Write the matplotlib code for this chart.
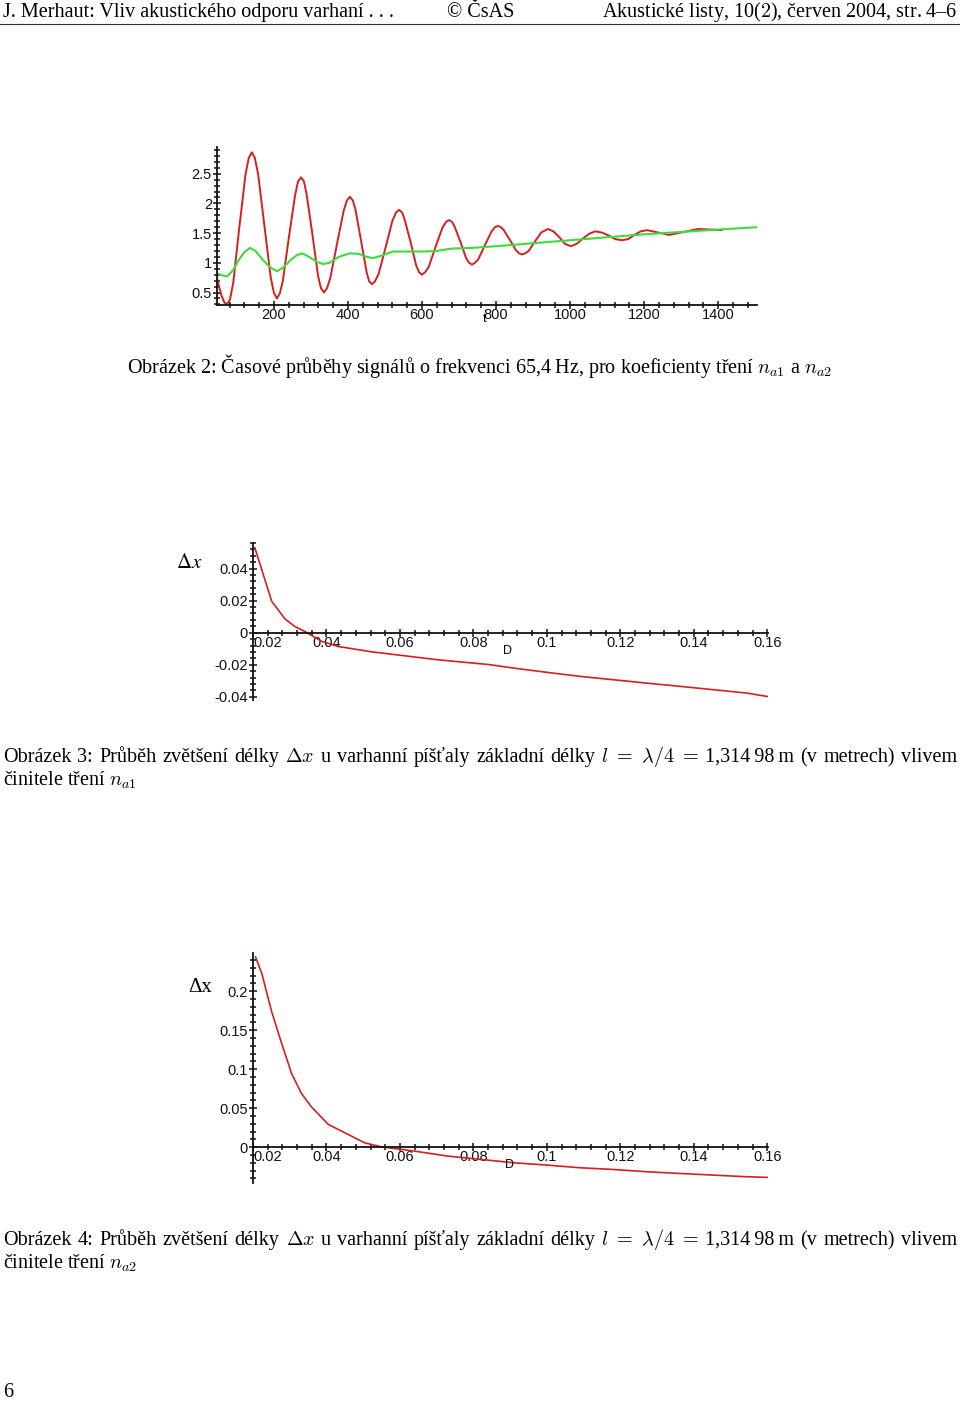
#!usr/bin/python3
import matplotlib
matplotlib.use('Agg')
import matplotlib.pyplot as plt
from matplotlib.ticker import FixedLocator, FixedFormatter, MultipleLocator
from matplotlib.lines import Line2D

W, H = 960, 1402

# Obrazek 2 - time signals (red: n_a1, green: n_a2)
t_red = [46, 58, 66, 73, 81, 90, 106, 123, 132, 140, 148, 157, 174, 191, 200, 208,
         216, 224, 240, 257, 265, 273, 281, 288, 304, 319, 327, 335, 343, 352, 370,
         388, 397, 405, 413, 420, 435, 450, 457, 465, 473, 483, 502, 520, 530, 538,
         546, 553, 569, 584, 592, 600, 608, 618, 636, 655, 665, 673, 681, 688, 704,
         719, 727, 735, 743, 752, 770, 788, 797, 805, 813, 821, 838, 854, 862, 870,
         878, 888, 905, 922, 940, 955, 971, 986, 1002, 1018, 1035, 1052, 1068, 1086,
         1104, 1122, 1140, 1157, 1174, 1191, 1208, 1238, 1268, 1307, 1346, 1380, 1410]
u_red = [0.74, 0.45, 0.33, 0.30, 0.38, 0.67, 1.58, 2.49, 2.77, 2.86, 2.77, 2.50, 1.63, 0.76, 0.49, 0.40,
         0.49, 0.70, 1.42, 2.14, 2.37, 2.44, 2.37, 2.16, 1.47, 0.78, 0.57, 0.50, 0.57, 0.74, 1.31,
         1.87, 2.05, 2.11, 2.05, 1.90, 1.38, 0.85, 0.69, 0.64, 0.69, 0.82, 1.27, 1.71, 1.85, 1.89,
         1.85, 1.73, 1.35, 0.96, 0.84, 0.80, 0.84, 0.93, 1.26, 1.59, 1.69, 1.72, 1.69, 1.61, 1.35,
         1.08, 1.00, 0.97, 1.00, 1.06, 1.30, 1.53, 1.60, 1.62, 1.60, 1.55, 1.38, 1.21, 1.16, 1.14,
         1.16, 1.20, 1.36, 1.51, 1.57, 1.53, 1.43, 1.32, 1.28, 1.32, 1.41, 1.49, 1.53, 1.51,
         1.46, 1.40, 1.38, 1.40, 1.47, 1.53, 1.55, 1.51, 1.47, 1.52, 1.57, 1.56, 1.55]
t_green = [46, 60, 73, 90, 105, 120, 135, 150, 170, 190, 208, 225, 245, 262, 276, 295,
           315, 332, 350, 375, 405, 430, 450, 468, 490, 520, 560, 600, 640, 680, 730,
           800, 900, 1000, 1100, 1200, 1300, 1400, 1505]
u_green = [0.82, 0.79, 0.77, 0.88, 1.05, 1.18, 1.25, 1.20, 1.05, 0.92, 0.86, 0.92, 1.05,
           1.13, 1.16, 1.10, 1.02, 0.98, 1.00, 1.10, 1.16, 1.15, 1.10, 1.08, 1.12, 1.19,
           1.19, 1.19, 1.20, 1.24, 1.25, 1.28, 1.33, 1.38, 1.43, 1.48, 1.52, 1.56, 1.60]
t_ticks = [200, 400, 600, 800, 1000, 1200, 1400]
t_ticklabels = ['200', '400', '600', '800', '1000', '1200', '1400']
u_ticks = [0.5, 1, 1.5, 2, 2.5]
u_ticklabels = ['0.5', '1', '1.5', '2', '2.5']

# Obrazek 3 - delta x vs D for n_a1
D_a1 = [0.0205, 0.0251, 0.0287, 0.0314, 0.0341, 0.0387, 0.0432, 0.0522, 0.0613, 0.0703,
        0.0839, 0.0911, 0.1002, 0.1092, 0.1183, 0.1273, 0.1364, 0.1454, 0.1545, 0.1600]
dx_a1 = [0.053, 0.0196, 0.0086, 0.0039, 0.0008, -0.0054, -0.0086, -0.0119, -0.0144,
         -0.0169, -0.0198, -0.0221, -0.0248, -0.0273, -0.0294, -0.0315, -0.0335, -0.0356,
         -0.0377, -0.0398]
dx_a1_ticks = [-0.04, -0.02, 0, 0.02, 0.04]
dx_a1_ticklabels = ['-0.04', '-0.02', '0', '0.02', '0.04']

# Obrazek 4 - delta x vs D for n_a2
D_a2 = [0.0207, 0.0224, 0.0251, 0.0278, 0.0305, 0.0332, 0.0359, 0.0405, 0.0459, 0.0504,
        0.0549, 0.0640, 0.0730, 0.0821, 0.0911, 0.1002, 0.1092, 0.1183, 0.1273, 0.1364,
        0.1454, 0.1545, 0.1600]
dx_a2 = [0.244, 0.2227, 0.1735, 0.133, 0.0945, 0.0688, 0.0517, 0.0291, 0.0163, 0.0055,
         0.0004, -0.0051, -0.0115, -0.0158, -0.0201, -0.0231, -0.0265, -0.0287, -0.0316,
         -0.0338, -0.0359, -0.0380, -0.0388]
dx_a2_ticks = [0, 0.05, 0.1, 0.15, 0.2]
dx_a2_ticklabels = ['0', '0.05', '0.1', '0.15', '0.2']

D_ticks = [0.02, 0.04, 0.06, 0.08, 0.1, 0.12, 0.14, 0.16]
D_ticklabels = ['0.02', '0.04', '0.06', '0.08', '0.1', '0.12', '0.14', '0.16']

RED = '#d42020'
GREEN = '#3ddc3d'
SERIF = ['Liberation Serif', 'DejaVu Serif']
SANS = ['Liberation Sans', 'DejaVu Sans']

plt.rcParams['mathtext.fontset'] = 'cm'
plt.rcParams['axes.unicode_minus'] = False

fig = plt.figure(figsize=(W / 100, H / 100), dpi=100)
r = fig.canvas.get_renderer()


def px_axes(left, top, right, bottom):
    return fig.add_axes([left / W, 1 - bottom / H, (right - left) / W, (bottom - top) / H])


#maple like axes with ticks crossing the axis lines
def maple_style(ax, xt, xl, yt, yl, xminor, yminor):
    ax.patch.set_alpha(0)
    for s in ('top', 'right'):
        ax.spines[s].set_visible(False)
    for s in ('left', 'bottom'):
        ax.spines[s].set_linewidth(1.3)
        ax.spines[s].set_color('#111111')
    ax.xaxis.set_major_locator(FixedLocator(xt))
    ax.xaxis.set_major_formatter(FixedFormatter(xl))
    ax.yaxis.set_major_locator(FixedLocator(yt))
    ax.yaxis.set_major_formatter(FixedFormatter(yl))
    ax.xaxis.set_minor_locator(MultipleLocator(xminor))
    ax.yaxis.set_minor_locator(MultipleLocator(yminor))
    ax.tick_params(which='both', direction='inout', width=1.1, color='#111111',
                   labelsize=10.5, labelcolor='#111111')
    ax.tick_params(which='major', length=6)
    ax.tick_params(which='minor', length=4)
    ax.tick_params(axis='x', pad=-0.8)
    ax.tick_params(axis='y', pad=0.6)
    for lab in ax.get_xticklabels() + ax.get_yticklabels():
        lab.set_family(SANS)


def axis_name(ax, s, dx, dy):
    ax.annotate(s, xy=(0.5, 0), xycoords='axes fraction', xytext=(dx, dy),
                textcoords='offset pixels', ha='center', va='center', fontsize=9,
                family=SANS)


# --- Obrazek 2 ---
ax1 = px_axes(217, 147, 757, 305)
ax1.plot(t_red, u_red, color=RED, lw=1.4)
ax1.plot(t_green, u_green, color=GREEN, lw=1.5)
ax1.set_xlim(46, 1505)
ax1.set_ylim(0.29, 2.95)
maple_style(ax1, t_ticks, t_ticklabels, u_ticks, u_ticklabels, 40, 0.1)
axis_name(ax1, 't', -2, -14)

# --- Obrazek 3 ---
ax2 = px_axes(253, 543, 768, 700)
ax2.plot(D_a1, dx_a1, color=RED, lw=1.2)
ax2.set_xlim(0.02, 0.1602)
ax2.set_ylim(-0.042, 0.056)
ax2.spines['bottom'].set_position(('data', 0))
maple_style(ax2, D_ticks, D_ticklabels, dx_a1_ticks, dx_a1_ticklabels, 0.004, 0.004)
ax2.get_xticklabels()[0].set_ha('left')
ax2.annotate(r'$\Delta x$', xy=(0, 1), xycoords='axes fraction', xytext=(-51, -19),
             textcoords='offset pixels', ha='right', va='center', fontsize=15,
             math_fontfamily='stix')

# --- Obrazek 4 ---
ax3 = px_axes(253, 953, 768, 1183)
ax3.plot(D_a2, dx_a2, color=RED, lw=1.2)
ax3.set_xlim(0.02, 0.1602)
ax3.set_ylim(-0.046, 0.249)
ax3.spines['bottom'].set_position(('data', 0))
maple_style(ax3, D_ticks, D_ticklabels, dx_a2_ticks, dx_a2_ticklabels, 0.004, 0.01)
ax3.get_xticklabels()[0].set_ha('left')
ax3.annotate('Δx', xy=(0, 1), xycoords='axes fraction', xytext=(-41, -34),
             textcoords='offset pixels', ha='right', va='center', fontsize=15,
             family=SERIF)

# the D name sits just under the zero line
fig.text(508 / W, 1 - 651 / H, 'D', ha='center', va='center', fontsize=9, family=SANS)
fig.text(510 / W, 1 - 1165 / H, 'D', ha='center', va='center', fontsize=9, family=SANS)

# --- page text ---
cap2 = ('Obrázek 2: Časové průběhy signálů o frekvenci 65,4\u2009Hz, '
        'pro koeficienty tření $n_{a1}$ a $n_{a2}$')
probe = fig.text(0, 0, cap2, fontsize=10, family=SERIF)
fs = 10 * 704 / probe.get_window_extent(r).width
probe.remove()


def put(x, y, s, ha='left'):
    return fig.text(x / W, 1 - y / H, s, fontsize=fs, family=SERIF, ha=ha, va='baseline')


def justified(tokens, y, x0=3, x1=957):
    arts = [put(0, y, tok) for tok in tokens]
    widths = [a.get_window_extent(r).width for a in arts]
    gap = (x1 - x0 - sum(widths)) / (len(arts) - 1)
    x = x0
    for a, w in zip(arts, widths):
        a.set_x(x / W)
        x += w + gap


put(3, 17, 'J. Merhaut: Vliv akustického odporu varhaní . . .')
put(481, 17, '© ČsAS', ha='center')
put(957, 17, r'Akustické listy, 10($\mathbf{2}$), červen 2004, str.' + '\u20094–6', ha='right')
fig.add_artist(Line2D([0, 1], [1 - 23.5 / H] * 2, transform=fig.transFigure,
                      color='#333333', lw=0.8))

put(480, 373, cap2, ha='center')

line1 = ['Obrázek', '3:', 'Průběh', 'zvětšení', 'délky', r'$\Delta x$', 'u', 'varhanní',
         'píšťaly', 'základní', 'délky', r'$l\ =\ \lambda/4\ =$',
         '1,314\u200998\u2009m', '(v', 'metrech)', 'vlivem']
justified(line1, 762)
put(3, 786, r'činitele tření $n_{a1}$')

line1[1] = '4:'
justified(line1, 1245)
put(3, 1269, r'činitele tření $n_{a2}$')

put(3, 1397, '6')

fig.savefig('out.png', dpi=100)
